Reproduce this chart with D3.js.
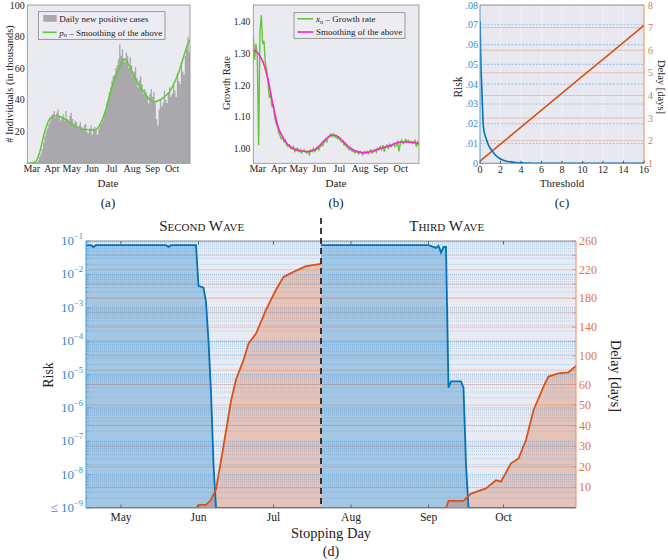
<!DOCTYPE html>
<html>
<head>
<meta charset="utf-8">
<title>Risk and delay of stopping day</title>
<script src="https://d3js.org/d3.v7.min.js"></script>
<style>
  body { margin: 0; background: white; }
  svg text { font-family: "Liberation Serif", "DejaVu Serif", serif; fill: #222; }
</style>
</head>
<body>
<script>
// ---------- data ----------
// (a) daily new positive cases, thousands, one value every 2 days from 2020-02-24
const casesStart = "2020-02-24";
const dailyCases = [
  0, 0, 0, 0, 0, 0.3, 0.5, 1, 2, 4,
  6, 9, 13, 17, 20, 22, 25, 27, 30, 31,
  33, 29, 32, 34, 30, 27, 29, 31, 27, 33,
  28, 26, 30, 32, 28, 25, 27, 26, 22, 24,
  26, 23, 21, 24, 25, 20, 19, 22, 24, 18,
  22, 23, 21, 18, 22, 24, 25, 27, 30, 33,
  38, 40, 45, 48, 52, 55, 56, 60, 62, 66,
  75, 68, 72, 66, 64, 70, 68, 60, 67, 62,
  55, 58, 61, 54, 48, 53, 55, 50, 44, 47,
  45, 42, 38, 44, 47, 42, 45, 38, 28, 24,
  34, 40, 36, 38, 46, 40, 38, 45, 48, 42,
  44, 50, 46, 42, 57, 52, 50, 64, 58, 56,
  68, 72, 80, 70, 95
];
const smoothDates = ["2020-02-24","2020-03-06","2020-03-14","2020-03-21","2020-03-29","2020-04-06","2020-04-10",
  "2020-04-23","2020-05-09","2020-05-19","2020-06-06","2020-06-13","2020-06-21","2020-06-28","2020-07-06",
  "2020-07-14","2020-07-21","2020-07-29","2020-08-06","2020-08-13","2020-08-21","2020-08-29","2020-09-05",
  "2020-09-13","2020-09-20","2020-09-28","2020-10-06","2020-10-13","2020-10-21","2020-10-26","2020-10-29"];
const smoothCases = [0, 0.5, 7, 19, 28, 30, 30, 27.4, 23, 21.5, 21, 24, 31.6, 42, 52.7,
  61, 65.8, 61, 53.8, 49, 44.3, 40, 38.8, 40, 42, 45.3, 51.6, 59, 69.6, 76, 78];

// (b) growth rate x_n, one value every 2 days from 2020-02-24
const growthStart = "2020-02-24";
const growthRate = [
  1.35, 1.28, 1.33, 1.29, 1.01, 1.37, 1.42, 1.33, 1.34, 1.27,
  1.25, 1.21, 1.16, 1.17, 1.13, 1.14, 1.10, 1.08, 1.07, 1.05,
  1.04, 1.03, 1.035, 1.02, 1.025, 1.01, 1.005, 1.01, 1.00, 0.998,
  1.005, 0.99, 0.995, 1.00, 0.99, 0.995, 0.985, 0.99, 0.995, 0.988,
  0.985, 0.99, 0.98, 0.995, 0.99, 1.00, 0.99, 0.995, 1.003, 0.995,
  1.005, 1.01, 1.008, 1.02, 1.025, 1.02, 1.035, 1.04, 1.045, 1.038,
  1.045, 1.035, 1.04, 1.03, 1.035, 1.025, 1.02, 1.022, 1.01, 1.012,
  1.005, 1.0, 0.995, 1.0, 0.99, 0.995, 0.985, 0.99, 0.988, 0.983,
  0.99, 0.985, 0.98, 0.99, 0.985, 0.99, 0.983, 0.99, 0.995, 0.985,
  0.99, 0.995, 0.988, 1.0, 0.995, 1.005, 0.995, 1.01, 0.99, 1.005,
  1.01, 1.0, 1.012, 1.005, 1.01, 1.015, 1.005, 1.01, 1.02, 0.99,
  1.015, 1.025, 1.015, 1.02, 1.028, 1.02, 1.025, 1.018, 1.022, 1.015,
  1.02, 1.025, 1.005, 1.02, 1.01
];
const growthSmoothDates = ["2020-02-24","2020-02-29","2020-03-04","2020-03-10","2020-03-17","2020-03-25","2020-04-01",
  "2020-04-09","2020-04-19","2020-05-04","2020-05-14","2020-05-24","2020-06-03","2020-06-13","2020-06-23",
  "2020-06-30","2020-07-13","2020-07-25","2020-08-07","2020-08-19","2020-09-01","2020-09-16","2020-10-01",
  "2020-10-13","2020-10-29"];
const growthSmooth = [1.31, 1.305, 1.295, 1.27, 1.217, 1.131, 1.068, 1.032, 1.005, 0.992, 0.99, 0.993,
  1.01, 1.032, 1.042, 1.037, 1.01, 0.992, 0.986, 0.99, 1.0, 1.008, 1.02, 1.02, 1.015];

// (c) risk and delay against threshold
const thresholds = [0, 0.05, 0.1, 0.16, 0.25, 0.33, 0.5, 0.65, 0.8, 1, 1.25, 1.5, 2, 2.5, 3, 3.5, 4, 5, 6, 8, 10, 12, 14, 16];
const riskByThreshold = [0.072, 0.058, 0.048, 0.040, 0.027, 0.0185, 0.014, 0.0118, 0.0095, 0.0076, 0.0058, 0.0042,
  0.0022, 0.0012, 0.0007, 0.0004, 0.0002, 0.00005, 0, 0, 0, 0, 0, 0];
const delayThresholds = [0, 2, 4, 6, 8, 10, 12, 14, 16];
const delayByThreshold = [1.10, 1.85, 2.6, 3.35, 4.1, 4.85, 5.6, 6.35, 7.1];

// (d) risk and delay against stopping day, second and third wave
const riskDates2 = ["2020-04-17","2020-04-19","2020-04-20","2020-04-21","2020-05-19","2020-05-20","2020-05-21","2020-05-31",
  "2020-06-01","2020-06-03","2020-06-04","2020-06-05","2020-06-06","2020-06-07","2020-06-08","2020-07-20"];
const risk2 = [0.075, 0.075, 0.066, 0.075, 0.075, 0.067, 0.075, 0.075, 0.0045, 0.004, 0.0015, 1e-4, 3e-6, 2e-8, 1e-9, 1e-9];
const riskDates3 = ["2020-07-20","2020-09-01","2020-09-04","2020-09-05","2020-09-06","2020-09-07","2020-09-08","2020-09-09",
  "2020-09-10","2020-09-14","2020-09-15","2020-09-16","2020-09-17","2020-10-30"];
const risk3 = [0.075, 0.075, 0.062, 0.072, 0.045, 0.066, 0.066, 4e-6, 6.2e-6, 6.2e-6, 4e-6, 2e-8, 1e-9, 1e-9];
const delayDates2 = ["2020-04-17","2020-05-31","2020-06-01","2020-06-04","2020-06-06","2020-06-08","2020-06-11","2020-06-14",
  "2020-06-16","2020-06-19","2020-06-21","2020-06-24","2020-06-28","2020-07-02","2020-07-05","2020-07-09","2020-07-14","2020-07-20"];
const delay2 = [0, 0, 1.5, 1.5, 4, 9, 30, 52, 67, 94, 117, 131, 164, 192, 210, 217, 225, 228];
const delayDates3 = ["2020-07-20","2020-09-08","2020-09-09","2020-09-15","2020-09-18","2020-09-24","2020-09-28","2020-09-30",
  "2020-10-04","2020-10-07","2020-10-10","2020-10-13","2020-10-17","2020-10-19","2020-10-23","2020-10-27","2020-10-30"];
const delay3 = [0, 0, 3.5, 3.5, 7, 9.5, 13.5, 12.8, 21.7, 24, 33, 47.5, 59, 71, 75.6, 77, 86];

const riskTickExp = [-1, -2, -3, -4, -5, -6, -7, -8, -9];
const delayTicks = [10, 20, 30, 40, 50, 60, 80, 100, 120, 140, 160, 180, 200, 220, 240, 260];
const delayLabels = [10, 20, 30, 40, 50, 60, 100, 140, 180, 220, 260];

// ---------- helpers ----------
const BLUE = "#0072bd", ORANGE = "#d95319";
const BLUE_TXT = "#2f8bd3", ORANGE_TXT = "#e27447";
const parse = d3.timeParse("%Y-%m-%d");
const fmtMonth = d3.timeFormat("%b");
const every2 = (start, arr) => arr.map((v, i) => ({date: d3.timeDay.offset(parse(start), 2 * i), v: v}));
const paired = (dates, vals) => dates.map((s, i) => ({date: parse(s), v: vals[i]}));

const svg = d3.select("body").append("svg")
    .attr("width", 668)
    .attr("height", 560)
    .style("background", "white");

let clipId = 0;
function plotBox(x0, y0, x1, y1, fill) {
    let id = "clip" + (clipId++);
    svg.append("clipPath").attr("id", id)
        .append("rect").attr("x", x0).attr("y", y0).attr("width", x1 - x0).attr("height", y1 - y0);
    svg.append("rect")
        .attr("x", x0).attr("y", y0).attr("width", x1 - x0).attr("height", y1 - y0)
        .attr("fill", fill);
    return svg.append("g").attr("clip-path", "url(#" + id + ")");
}

function frame(x0, y0, x1, y1, color) {
    svg.append("rect")
        .attr("x", x0).attr("y", y0).attr("width", x1 - x0).attr("height", y1 - y0)
        .attr("fill", "none").attr("stroke", color).attr("stroke-width", 0.8);
}

function text(x, y, s, size, anchor, color) {
    return svg.append("text")
        .attr("x", x).attr("y", y)
        .attr("font-size", size)
        .attr("text-anchor", anchor || "middle")
        .style("fill", color || "#222")
        .text(s);
}

function vtext(x, y, s, size, angle, color) {
    return svg.append("text")
        .attr("transform", "translate(" + x + "," + y + ") rotate(" + angle + ")")
        .attr("font-size", size)
        .attr("text-anchor", "middle")
        .attr("dominant-baseline", "central")
        .style("fill", color || "#222")
        .text(s);
}

// ---------- (a) daily cases ----------
{
    const x0 = 27.3, x1 = 190, y0 = 5, y1 = 163.3;
    const x = d3.scaleTime().domain([parse("2020-02-24"), parse("2020-10-29")]).range([x0, x1]);
    const y = d3.scaleLinear().domain([0, 100]).range([y1, y0]);
    const g = plotBox(x0, y0, x1, y1, "#eaeaf1");

    g.append("path")
        .datum(every2(casesStart, dailyCases))
        .attr("fill", "#a9a9ad")
        .attr("d", d3.area().x(d => x(d.date)).y0(y(0)).y1(d => y(d.v)).curve(d3.curveStepAfter));

    g.append("path")
        .datum(paired(smoothDates, smoothCases))
        .attr("fill", "none").attr("stroke", "#64c83a").attr("stroke-width", 1.6)
        .attr("d", d3.line().x(d => x(d.date)).y(d => y(d.v)).curve(d3.curveMonotoneX));

    frame(x0, y0, x1, y1, "#8c8c8c");

    [20, 40, 60, 80, 100].forEach(v => text(x0 - 2.5, y(v) + 3.5, v, 10, "end"));
    d3.timeMonth.range(parse("2020-03-01"), parse("2020-10-02"))
        .forEach(m => text(x(m) + 0.5, 171.5, fmtMonth(m), 10));

    text(108, 187, "Date", 11);
    text(108, 207, "(a)", 13);
    vtext(9, 84, "# Individuals (in thousands)", 10.5, -90);

    // legend
    svg.append("rect").attr("x", 38.3).attr("y", 11.7).attr("width", 126.7).attr("height", 27.6)
        .attr("fill", "#ececf2").attr("stroke", "#777").attr("stroke-width", 0.7);
    svg.append("rect").attr("x", 43.3).attr("y", 15).attr("width", 13.4).attr("height", 6.7).attr("fill", "#a9a9ad");
    text(59.3, 21.5, "Daily new positive cases", 9, "start");
    svg.append("line").attr("x1", 42.7).attr("x2", 56.7).attr("y1", 32.3).attr("y2", 32.3)
        .attr("stroke", "#64c83a").attr("stroke-width", 1.6);
    const t = text(59.3, 35.5, "", 9, "start");
    t.append("tspan").attr("font-style", "italic").text("p");
    t.append("tspan").attr("font-style", "italic").attr("font-size", 6.5).attr("dy", 1.5).text("n");
    t.append("tspan").attr("dy", -1.5).text(" \u2013 Smoothing of the above");
}

// ---------- (b) growth rate ----------
{
    const x0 = 253.3, x1 = 419, y0 = 5, y1 = 163.3;
    const x = d3.scaleTime().domain([parse("2020-02-24"), parse("2020-10-29")]).range([x0, x1]);
    const y = d3.scaleLinear().domain([1.0, 1.4]).range([148.3, 21.7]);
    const g = plotBox(x0, y0, x1, y1, "#eaeaf1");

    g.append("path")
        .datum(every2(growthStart, growthRate))
        .attr("fill", "none").attr("stroke", "#66c43a").attr("stroke-width", 1.4)
        .attr("d", d3.line().x(d => x(d.date)).y(d => y(d.v)));

    g.append("path")
        .datum(paired(growthSmoothDates, growthSmooth))
        .attr("fill", "none").attr("stroke", "#ff22c4").attr("stroke-width", 1.6)
        .attr("d", d3.line().x(d => x(d.date)).y(d => y(d.v)).curve(d3.curveMonotoneX));

    frame(x0, y0, x1, y1, "#8c8c8c");

    [1.0, 1.1, 1.2, 1.3, 1.4].forEach(v => text(x0 - 3, y(v) + 3.5, d3.format(".2f")(v), 9.5, "end"));
    d3.timeMonth.range(parse("2020-03-01"), parse("2020-10-02"))
        .forEach(m => text(x(m) + 0.5, 171.5, fmtMonth(m), 10));

    text(336, 187, "Date", 11);
    text(336, 207, "(b)", 13);
    vtext(226, 83, "Growth Rate", 10.5, -90);

    svg.append("rect").attr("x", 294).attr("y", 12.7).attr("width", 111).attr("height", 25.6)
        .attr("fill", "#ececf2").attr("stroke", "#777").attr("stroke-width", 0.7);
    svg.append("line").attr("x1", 297.3).attr("x2", 313.3).attr("y1", 18.8).attr("y2", 18.8)
        .attr("stroke", "#66c43a").attr("stroke-width", 1.6);
    const t = text(316, 22, "", 9, "start");
    t.append("tspan").attr("font-style", "italic").text("x");
    t.append("tspan").attr("font-style", "italic").attr("font-size", 6.5).attr("dy", 1.5).text("n");
    t.append("tspan").attr("dy", -1.5).text(" \u2013 Growth rate");
    svg.append("line").attr("x1", 297.3).attr("x2", 313.3).attr("y1", 32).attr("y2", 32)
        .attr("stroke", "#ff22c4").attr("stroke-width", 1.6);
    text(316, 35, "Smoothing of the above", 9, "start");
}

// ---------- (c) risk / delay vs threshold ----------
{
    const x0 = 480, x1 = 644, y0 = 5, y1 = 163.3;
    const x = d3.scaleLinear().domain([0, 16]).range([x0, x1]);
    const yl = d3.scaleLinear().domain([0, 0.08]).range([y1, y0]);
    const yr = d3.scaleLinear().domain([1, 8]).range([y1, y0]);
    const g = plotBox(x0, y0, x1, y1, "#e8e8f0");

    d3.range(2, 16, 2).forEach(v => g.append("line")
        .attr("x1", x(v)).attr("x2", x(v)).attr("y1", y0).attr("y2", y1)
        .attr("stroke", "#ffffff").attr("stroke-opacity", 0.6).attr("stroke-width", 0.6));
    d3.range(1, 8).forEach(v => g.append("line")
        .attr("x1", x0).attr("x2", x1).attr("y1", yl(v / 100)).attr("y2", yl(v / 100))
        .attr("stroke", "#5aa0dc").attr("stroke-opacity", 0.5).attr("stroke-width", 1.1)
        .attr("stroke-dasharray", "2,1.5"));
    d3.range(2, 8).forEach(v => g.append("line")
        .attr("x1", x0).attr("x2", x1).attr("y1", yr(v)).attr("y2", yr(v))
        .attr("stroke", ORANGE).attr("stroke-opacity", 0.45).attr("stroke-width", 0.6));

    g.append("path")
        .datum(delayThresholds.map((t, i) => ({t: t, v: delayByThreshold[i]})))
        .attr("fill", "none").attr("stroke", ORANGE).attr("stroke-width", 1.6)
        .attr("d", d3.line().x(d => x(d.t)).y(d => yr(d.v)));
    g.append("path")
        .datum(thresholds.map((t, i) => ({t: t, v: riskByThreshold[i]})))
        .attr("fill", "none").attr("stroke", BLUE).attr("stroke-width", 1.6)
        .attr("d", d3.line().x(d => x(d.t)).y(d => yl(d.v)).curve(d3.curveMonotoneX));

    svg.append("line").attr("x1", x0).attr("x2", x1).attr("y1", y0).attr("y2", y0).attr("stroke", "#8c8c8c");
    svg.append("line").attr("x1", x0).attr("x2", x1).attr("y1", y1).attr("y2", y1).attr("stroke", "#7a8a9a");
    svg.append("line").attr("x1", x0).attr("x2", x0).attr("y1", y0).attr("y2", y1).attr("stroke", "#4a9ee0");
    svg.append("line").attr("x1", x1).attr("x2", x1).attr("y1", y0).attr("y2", y1).attr("stroke", "#ee8a60");

    d3.range(0, 17, 2).forEach(v => {
        svg.append("line").attr("x1", x(v)).attr("x2", x(v)).attr("y1", y1).attr("y2", y1 - 2.5).attr("stroke", "#555");
        text(x(v), 173, v, 10);
    });
    d3.range(0, 9).forEach(v => {
        const val = v / 100;
        text(x0 - 2, yl(val) + 3.5, v === 0 ? "0" : d3.format(".2f")(val).replace(/^0/, ""), 10, "end", BLUE_TXT);
    });
    d3.range(1, 9).forEach(v => text(x1 + 4, yr(v) + 3.5, v, 10, "start", ORANGE_TXT));

    text(562, 187, "Threshold", 11);
    text(562, 207, "(c)", 13);
    vtext(458.3, 87, "Risk", 11.5, -90);
    vtext(661.5, 87, "Delay [days]", 10.5, 90);
}

// ---------- (d) risk / delay vs stopping day ----------
{
    const x0 = 86, x1 = 576, y0 = 241, y1 = 508;
    const x = d3.scaleTime().domain([parse("2020-04-17"), parse("2020-10-30")]).range([x0, x1]);
    const yRisk = d3.scaleLog().domain([1e-9, 1e-1]).range([y1, y0]).clamp(true);
    const yDelay = d3.scaleLinear().domain([0, 60, 260]).range([y1, 384.5, y0]);
    const g = plotBox(x0, y0, x1, y1, "#eaebf2");

    const riskArea = d3.area().x(d => x(d.date)).y0(y1).y1(d => yRisk(d.v));
    const riskLine = d3.line().x(d => x(d.date)).y(d => yRisk(d.v));
    const delayArea = d3.area().x(d => x(d.date)).y0(y1).y1(d => yDelay(d.v));
    const delayLine = d3.line().x(d => x(d.date)).y(d => yDelay(d.v));

    const waves = [
        {risk: paired(riskDates2, risk2), delay: paired(delayDates2, delay2)},
        {risk: paired(riskDates3, risk3), delay: paired(delayDates3, delay3)}
    ];
    waves.forEach(w => {
        g.append("path").datum(w.risk).attr("fill", BLUE).attr("fill-opacity", 0.3).attr("d", riskArea);
        g.append("path").datum(w.delay).attr("fill", ORANGE).attr("fill-opacity", 0.26).attr("d", delayArea);
    });

    // log grid (dotted blue)
    riskTickExp.forEach(e => {
        d3.range(1, 10).forEach(m => {
            const v = m * Math.pow(10, e);
            if (v > 0.1 + 1e-12 || (e === -1 && m > 1)) return;
            g.append("line").attr("x1", x0).attr("x2", x1).attr("y1", yRisk(v)).attr("y2", yRisk(v))
                .attr("stroke", "#3f8fd6")
                .attr("stroke-opacity", m === 1 ? 0.7 : 0.45)
                .attr("stroke-width", 0.7)
                .attr("stroke-dasharray", "1,1");
        });
    });
    // delay grid (thin orange)
    delayTicks.forEach(v => g.append("line")
        .attr("x1", x0).attr("x2", x1).attr("y1", yDelay(v)).attr("y2", yDelay(v))
        .attr("stroke", ORANGE).attr("stroke-opacity", 0.4).attr("stroke-width", 0.6));

    waves.forEach(w => {
        g.append("path").datum(w.risk).attr("fill", "none").attr("stroke", BLUE).attr("stroke-width", 1.8).attr("d", riskLine);
        g.append("path").datum(w.delay).attr("fill", "none").attr("stroke", ORANGE).attr("stroke-width", 1.8).attr("d", delayLine);
    });

    // spines
    svg.append("line").attr("x1", x0).attr("x2", x1).attr("y1", y0).attr("y2", y0).attr("stroke", "#8c8c8c");
    svg.append("line").attr("x1", x0).attr("x2", x1).attr("y1", y1).attr("y2", y1).attr("stroke", "#7d8a98");
    svg.append("line").attr("x1", x0).attr("x2", x0).attr("y1", y0).attr("y2", y1).attr("stroke", "#4a9ee0");
    svg.append("line").attr("x1", x1).attr("x2", x1).attr("y1", y0).attr("y2", y1).attr("stroke", "#ee8a60");

    // left ticks and labels
    riskTickExp.forEach(e => {
        d3.range(1, 10).forEach(m => {
            if (e === -1 && m > 1) return;
            const yy = yRisk(m * Math.pow(10, e));
            svg.append("line").attr("x1", x0).attr("x2", x0 + (m === 1 ? 4 : 2.5)).attr("y1", yy).attr("y2", yy)
                .attr("stroke", "#4a9ee0").attr("stroke-width", 0.7);
        });
        const t = text(x0 - 3, yRisk(Math.pow(10, e)) + 4, "", 13, "end", BLUE_TXT);
        t.append("tspan").text(e === -9 ? "\u2264 10" : "10");
        t.append("tspan").attr("font-size", 8.5).attr("dy", -6).text("\u2212" + (-e));
    });

    // right ticks and labels
    delayTicks.forEach(v => svg.append("line")
        .attr("x1", x1).attr("x2", x1 - 4).attr("y1", yDelay(v)).attr("y2", yDelay(v))
        .attr("stroke", "#ee8a60").attr("stroke-width", 0.8));
    delayLabels.forEach(v => text(x1 + 3, yDelay(v) + 4, v, 12, "start", ORANGE_TXT));

    // month ticks
    d3.timeMonth.range(parse("2020-05-01"), parse("2020-10-02")).forEach(m => {
        svg.append("line").attr("x1", x(m)).attr("x2", x(m)).attr("y1", y1).attr("y2", y1 - 3.5).attr("stroke", "#666");
        svg.append("line").attr("x1", x(m)).attr("x2", x(m)).attr("y1", y0).attr("y2", y0 + 3.5).attr("stroke", "#666");
        text(x(m), 521, fmtMonth(m), 11.5);
    });

    // wave separator
    const sep = x(parse("2020-07-20"));
    svg.append("line").attr("x1", sep).attr("x2", sep).attr("y1", 218).attr("y2", y1)
        .attr("stroke", "#111").attr("stroke-width", 1.6).attr("stroke-dasharray", "6,4");

    text(201.7, 231, "Second Wave", 15).style("font-variant", "small-caps");
    text(446.7, 231, "Third Wave", 15).style("font-variant", "small-caps");

    text(331, 538, "Stopping Day", 14.5);
    text(331, 556, "(d)", 14);
    vtext(48.3, 375, "Risk", 14, -90);
    vtext(615, 376, "Delay [days]", 14, 90);
}
</script>
</body>
</html>
